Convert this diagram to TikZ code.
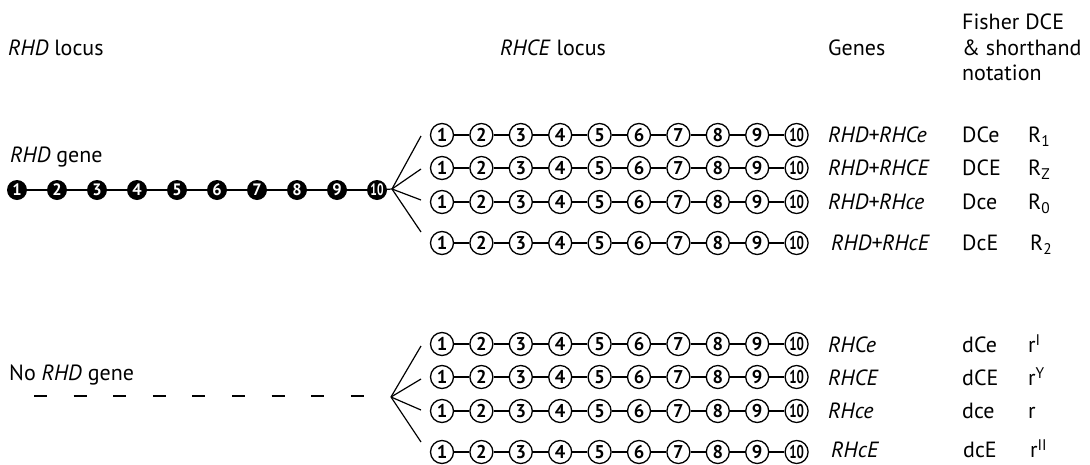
\documentclass[tikz,border=0pt]{standalone}
\usepackage{fontspec}
\setmainfont{PT Sans}
\usepackage{graphicx}
\newcommand{\cnum}[1]{\ifnum#1=10 \scalebox{0.7}[1]{10}\else #1\fi}
\begin{document}
\begin{tikzpicture}[x=1pt,y=-1pt,
  every node/.style={font=\fontsize{22}{25.5}\selectfont},
  lab/.style={anchor=west, inner sep=0pt, text height=15.5pt, text depth=0pt},
  wc/.style={circle, draw, line width=1.3pt, minimum size=23pt, inner sep=0pt, font=\fontsize{18.5}{18.5}\selectfont\bfseries},
  bc/.style={circle, fill=black, minimum size=20pt, inner sep=0pt, text=white, font=\fontsize{16.5}{16.5}\selectfont\bfseries},
  link/.style={line width=1.2pt},
  dashline/.style={line width=2.4pt, dash pattern=on 13pt off 26.6pt},
]
\useasboundingbox (0,0) rectangle (1090,464);

% headers
\node[lab] (hRHD) at (8,48) {\textit{RHD} locus};
\node[lab] (hRHCE) at (500,48) {\textit{RHCE} locus};
\node[lab] (hGenes) at (828,48) {Genes};
\node[lab] (hF1) at (962,22) {Fisher DCE};
\node[lab] (hF2) at (962,48) {\& shorthand};
\node[lab] (hF3) at (962,73) {notation};

% RHD gene row
\node[lab] (rhdgene) at (10,155) {\textit{RHD} gene};
\foreach \i in {1,...,10} \node[bc] (b\i) at ({17+40*(\i-1)},190) {\cnum{\i}};
\foreach \i [evaluate=\i as \j using int(\i+1)] in {1,...,9} \draw[link] (b\i) -- (b\j);
\coordinate (fanA) at (392,189);
\draw[link] (b10) -- (fanA);

% No RHD gene row
\node[lab] (norhd) at (9,373) {No \textit{RHD} gene};
\coordinate (d0) at (34,396);
\coordinate (d1) at (365,396);
\draw[dashline] (d0) -- (d1);
\coordinate (fanB) at (391,397);

% fan end points
\foreach \r/\y in {1/136,2/169,3/200,4/232} {
  \coordinate (ea\r) at (421,\y);
  \coordinate (eb\r) at (421,{\y+210});
  \draw[link] (fanA) -- (ea\r);
  \draw[link] (fanB) -- (eb\r);
}

% RHCE rows
\foreach \r/\y in {1/135,2/168,3/202,4/243} {
  \foreach \i in {1,...,10} {
    \node[wc] (u\r-\i) at ({442+39.4*(\i-1)},\y) {\cnum{\i}};
    \node[wc] (l\r-\i) at ({442+39.4*(\i-1)},{\y+209}) {\cnum{\i}};
  }
  \foreach \i [evaluate=\i as \j using int(\i+1)] in {1,...,9} {
    \draw[link] (u\r-\i) -- (u\r-\j);
    \draw[link] (l\r-\i) -- (l\r-\j);
  }
}

% labels upper
\node[lab] (g1) at (828,135) {\textit{RHD+RHCe}};
\node[lab] (f1) at (962,135) {DCe};
\node[lab] (s1) at (1028,135) {R\textsubscript{1}};
\node[lab] (g2) at (828,168) {\textit{RHD+RHCE}};
\node[lab] (f2) at (962,168) {DCE};
\node[lab] (s2) at (1028,168) {R\textsubscript{Z}};
\node[lab] (g3) at (828,202) {\textit{RHD+RHce}};
\node[lab] (f3) at (962,202) {Dce};
\node[lab] (s3) at (1028,202) {R\textsubscript{0}};
\node[lab] (g4) at (831,243) {\textit{RHD+RHcE}};
\node[lab] (f4) at (962,243) {DcE};
\node[lab] (s4) at (1030,243) {R\textsubscript{2}};

% labels lower
\node[lab] (g5) at (828,345) {\textit{RHCe}};
\node[lab] (f5) at (962,345) {dCe};
\node[lab] (s5) at (1028,345) {r\textsuperscript{I}};
\node[lab] (g6) at (828,378) {\textit{RHCE}};
\node[lab] (f6) at (962,378) {dCE};
\node[lab] (s6) at (1028,378) {r\textsuperscript{Y}};
\node[lab] (g7) at (828,411) {\textit{RHce}};
\node[lab] (f7) at (962,411) {dce};
\node[lab] (s7) at (1028,411) {r};
\node[lab] (g8) at (831,450) {\textit{RHcE}};
\node[lab] (f8) at (963,450) {dcE};
\node[lab] (s8) at (1030,450) {r\textsuperscript{II}};
\end{tikzpicture}
\end{document}
